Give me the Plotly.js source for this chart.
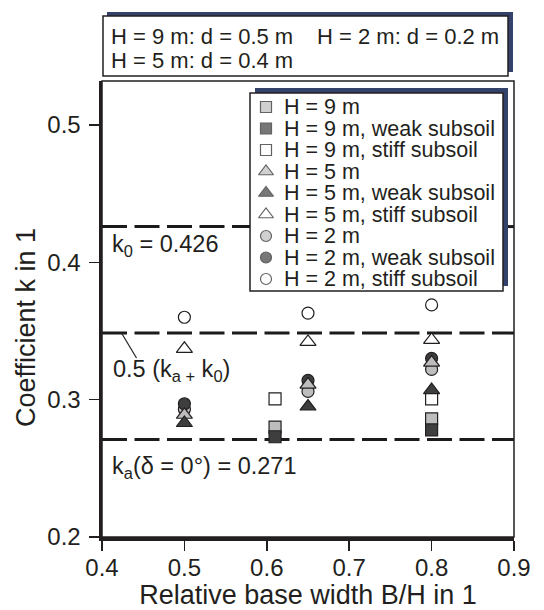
<!DOCTYPE html>
<html><head><meta charset="utf-8">
<script src="https://cdn.plot.ly/plotly-3.0.1.min.js"></script>
<style>html,body{margin:0;padding:0;background:#fff}#chart{width:544px;height:610px}</style>
</head><body><div id="chart"></div>
<script>
// ---------- data ----------
const seriesNames = ["H = 9 m", "H = 9 m, weak subsoil", "H = 9 m, stiff subsoil",
  "H = 5 m", "H = 5 m, weak subsoil", "H = 5 m, stiff subsoil",
  "H = 2 m", "H = 2 m, weak subsoil", "H = 2 m, stiff subsoil"];
const xH9 = [0.61, 0.8];
const xH5 = [0.5, 0.65, 0.8];
const xH2 = [0.5, 0.65, 0.8];
const kH9 = [0.280, 0.286];
const kH9Weak = [0.273, 0.278];
const kH9Stiff = [0.3005, 0.3005];
const kH5 = [0.289, 0.311, 0.327];
const kH5Weak = [0.283, 0.295, 0.307];
const kH5Stiff = [0.337, 0.342, 0.3435];
const kH2 = [0.293, 0.306, 0.322];
const kH2Weak = [0.297, 0.314, 0.330];
const kH2Stiff = [0.360, 0.363, 0.369];
const refLineValues = [0.426, 0.3485, 0.271];
const refLineLabels = ["k<sub>0</sub> = 0.426", "0.5 (k<sub>a +</sub> k<sub>0</sub>)", "k<sub>a</sub>(\u03b4 = 0\u00b0) = 0.271"];
const boxLines = ["H = 9 m: d = 0.5 m", "H = 2 m: d = 0.2 m", "H = 5 m: d = 0.4 m"];
const xTicks = [0.4, 0.5, 0.6, 0.7, 0.8, 0.9];
const yTicks = [0.2, 0.3, 0.4, 0.5];
const xTitle = "Relative base width B/H in 1";
const yTitle = "Coefficient k in 1";

// ---------- styling ----------
const FONT = "Arial, 'Liberation Sans', sans-serif";
const INK = "#231f20";
const GRAY = "#bdbdbd", DARK = "#3e3e3e", WHITE = "#ffffff", NAVY = "#34426b";
const styles = [
  {symbol: "square", color: GRAY, size: 12}, {symbol: "square", color: DARK, size: 12}, {symbol: "square", color: WHITE, size: 12},
  {symbol: "triangle-up", color: GRAY, size: 14}, {symbol: "triangle-up", color: DARK, size: 14}, {symbol: "triangle-up", color: WHITE, size: 14},
  {symbol: "circle", color: GRAY, size: 12}, {symbol: "circle", color: DARK, size: 12}, {symbol: "circle", color: WHITE, size: 12}
];
const seriesData = [[xH9, kH9], [xH9, kH9Weak], [xH9, kH9Stiff], [xH5, kH5], [xH5, kH5Weak], [xH5, kH5Stiff], [xH2, kH2], [xH2, kH2Weak], [xH2, kH2Stiff]];
const drawOrder = [6, 7, 8, 0, 1, 2, 3, 4, 5];

// pixel frame of plot area
const P = {l: 102, r: 514, t: 81, b: 537};
const fx = p => (p - P.l) / (P.r - P.l);
const fy = p => (P.b - p) / (P.b - P.t);

const traces = drawOrder.map(i => ({
  type: "scatter", mode: "markers", name: seriesNames[i],
  x: seriesData[i][0], y: seriesData[i][1], showlegend: false, cliponaxis: false,
  marker: {symbol: styles[i].symbol, size: styles[i].size, color: styles[i].color, line: {color: INK, width: 1.2}}
}));

// manual legend (rows on a pixel-like overlay axis)
const legRow0 = 107, legStep = 21.5, legSymX = 266, legTextX = 282;
const legendRows = seriesNames.map((_, i) => legRow0 + legStep * i);
traces.push({
  type: "scatter", mode: "markers", xaxis: "x2", yaxis: "y2", showlegend: false, hoverinfo: "skip",
  x: seriesNames.map(() => legSymX), y: legendRows, cliponaxis: false,
  marker: {symbol: styles.map(s => s.symbol), size: styles.map(s => s.size - 1), color: styles.map(s => s.color), line: {color: INK, width: 1.2}}
});

const shapes = [];
refLineValues.forEach(v => shapes.push({type: "line", layer: "below", xref: "paper", yref: "y", x0: 0, x1: 1, y0: v, y1: v,
  line: {color: "#1c1a1a", width: 3, dash: "25px,7.5px"}}));
// top info box + shadow
shapes.push({type: "rect", layer: "below", xref: "paper", yref: "paper", x0: fx(107), x1: fx(513), y0: fy(12), y1: fy(72), fillcolor: NAVY, line: {width: 0}});
shapes.push({type: "rect", layer: "below", xref: "paper", yref: "paper", x0: fx(103), x1: fx(508), y0: fy(16), y1: fy(76), fillcolor: WHITE, line: {color: INK, width: 1.5}});
// legend box + shadow
shapes.push({type: "rect", layer: "below", xref: "paper", yref: "paper", x0: fx(255), x1: fx(508), y0: fy(88), y1: fy(286), fillcolor: NAVY, line: {width: 0}});
shapes.push({type: "rect", layer: "below", xref: "paper", yref: "paper", x0: fx(250), x1: fx(503), y0: fy(93), y1: fy(291), fillcolor: WHITE, line: {color: INK, width: 1.5}});
// leader line
shapes.push({type: "line", layer: "above", xref: "paper", yref: "paper", x0: fx(121.5), x1: fx(136.5), y0: fy(333), y1: fy(358), line: {color: INK, width: 1.2}});
// thin frame
shapes.push({type: "rect", layer: "above", xref: "paper", yref: "paper", x0: 0, x1: 1, y0: 0, y1: 1, line: {color: INK, width: 1.5}});

const annFont = {family: FONT, size: 23.5, color: INK};
const boxFont = {family: FONT, size: 22, color: INK};
const annotations = [
  {xref: "paper", yref: "paper", x: fx(110), y: fy(245), xanchor: "left", yanchor: "middle", showarrow: false, text: refLineLabels[0], font: annFont},
  {xref: "paper", yref: "paper", x: fx(111), y: fy(370), xanchor: "left", yanchor: "middle", showarrow: false, text: refLineLabels[1], font: annFont},
  {xref: "paper", yref: "paper", x: fx(110), y: fy(467), xanchor: "left", yanchor: "middle", showarrow: false, text: refLineLabels[2], font: annFont},
  {xref: "paper", yref: "paper", x: fx(109), y: fy(36), xanchor: "left", yanchor: "middle", showarrow: false, text: boxLines[0], font: boxFont},
  {xref: "paper", yref: "paper", x: fx(315), y: fy(36), xanchor: "left", yanchor: "middle", showarrow: false, text: boxLines[1], font: boxFont},
  {xref: "paper", yref: "paper", x: fx(109), y: fy(60), xanchor: "left", yanchor: "middle", showarrow: false, text: boxLines[2], font: boxFont},
  {xref: "paper", yref: "paper", x: fx(26), y: fy(328), xanchor: "center", yanchor: "middle", textangle: -90, showarrow: false, text: yTitle,
    font: {family: FONT, size: 27, color: INK}}
];
seriesNames.forEach((n, i) => annotations.push({xref: "x2", yref: "y2", x: legTextX, y: legendRows[i], xanchor: "left", yanchor: "middle",
  showarrow: false, text: n, font: {family: FONT, size: 21.5, color: INK}}));

const layout = {
  width: 544, height: 610, margin: {l: P.l, r: 544 - P.r, t: P.t, b: 610 - P.b},
  paper_bgcolor: "#fff", plot_bgcolor: "#fff", showlegend: false,
  font: {family: FONT, color: INK},
  xaxis: {range: [0.4, 0.9], tickvals: xTicks, ticktext: xTicks.map(v => v.toFixed(1)), showgrid: false, zeroline: false,
    showline: true, linecolor: INK, linewidth: 3.5, ticks: "outside", ticklen: 10, tickwidth: 1.5, tickcolor: INK,
    tickfont: {family: FONT, size: 24, color: INK}, ticklabelstandoff: -3,
    title: {text: xTitle, font: {family: FONT, size: 27, color: INK}, standoff: 1}},
  yaxis: {range: [0.2, 0.532], tickvals: yTicks, ticktext: yTicks.map(v => v.toFixed(1)), showgrid: false, zeroline: false,
    showline: true, linecolor: INK, linewidth: 3.5, ticks: "outside", ticklen: 10, tickwidth: 1.5, tickcolor: INK,
    tickfont: {family: FONT, size: 24, color: INK}, ticklabelstandoff: 3},
  xaxis2: {overlaying: "x", range: [P.l, P.r], visible: false, fixedrange: true},
  yaxis2: {overlaying: "y", range: [P.b, P.t], visible: false, fixedrange: true},
  shapes: shapes, annotations: annotations
};
Plotly.newPlot("chart", traces, layout, {displayModeBar: false, staticPlot: true});
</script>
</body></html>
